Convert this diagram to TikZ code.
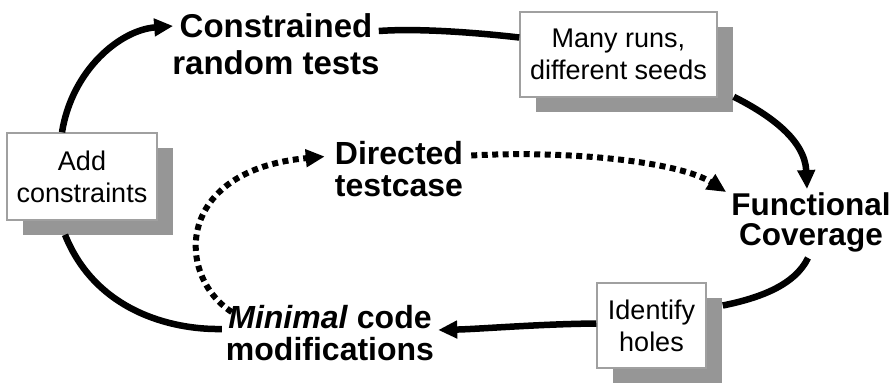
\documentclass[tikz,border=0pt]{standalone}
\usepackage{fontspec}
\setmainfont{Liberation Sans}
\usetikzlibrary{arrows.meta,shadows}
\definecolor{shadowgray}{RGB}{150,150,150}
\definecolor{bordergray}{RGB}{160,160,160}
\tikzset{
  boxed/.style={draw=bordergray, line width=1.5pt, fill=white, inner sep=0pt, align=center,
    font=\fontsize{27}{32}\selectfont,
    drop shadow={shadow xshift=16pt, shadow yshift=-15pt, fill=shadowgray, opacity=1}},
  label/.style={inner sep=0pt, align=center, font=\fontsize{32}{33}\selectfont\bfseries},
  flow/.style={line width=6.5pt},
  flowarrow/.style={line width=6.5pt, -{Triangle[length=19pt,width=17pt]}},
  dotarrow/.style={line width=6pt, dash pattern=on 6pt off 4.5pt, -{Triangle[length=19pt,width=17pt]}}
}
\begin{document}
\begin{tikzpicture}[x=1pt, y=-1pt]
\useasboundingbox (0,0) rectangle (895,384);

% boxes
\node[boxed, minimum width=150pt, minimum height=87pt] (add) at (82,176.5) {Add\\constraints};
\node[boxed, minimum width=197pt, minimum height=85pt] (many) at (618.5,54.5) {Many runs,\\different seeds};
\node[boxed, minimum width=109pt, minimum height=85pt] (ident) at (651.5,325.5) {Identify\\holes};

% bold labels
\node[label, font=\fontsize{33}{37}\selectfont\bfseries] (crt) at (276,44) {Constrained\\random tests};
\node[label, font=\fontsize{32}{32}\selectfont\bfseries] (dir) at (399,169.5) {Directed\\testcase};
\node[label, font=\fontsize{31.5}{30}\selectfont\bfseries] (func) at (811,222) {Functional\\Coverage};
\node[label, font=\fontsize{32}{32}\selectfont\bfseries] (min) at (330,333) {\textit{Minimal} code\\modifications};

% solid connectors
\draw[flowarrow] ([xshift=-20pt]add.north) .. controls (72,70) and (120,30) .. ([xshift=1pt,yshift=18pt]crt.west);
\draw[flow] ([xshift=-1pt,yshift=13pt]crt.east) .. controls (420,28) and (480,33) .. ([yshift=17pt]many.west);
\draw[flowarrow] ([xshift=16pt,yshift=1pt]many.south east) .. controls (770,115) and (805,140) .. ([xshift=-4pt,yshift=3pt]func.north);
\draw[flow] ([xshift=-3pt,yshift=-6pt]func.south) .. controls (795,285) and (760,298) .. ([xshift=16pt,yshift=20pt]ident.east);
\draw[flowarrow] ([yshift=2pt]ident.west) .. controls (540,324) and (480,329) .. ([xshift=4pt,yshift=3pt]min.east);
\draw[flow] ([xshift=-17pt,yshift=-14pt]add.south) .. controls (95,310) and (170,330) .. ([xshift=-4pt,yshift=4pt]min.west);

% dotted connectors
\draw[dotarrow] ([xshift=6pt,yshift=-7pt]min.north west) .. controls (175,275) and (175,170) .. ([xshift=-10pt,yshift=13pt]dir.west);
\draw[dotarrow] ([xshift=8pt,yshift=14pt]dir.east) .. controls (570,150) and (680,162) .. ([xshift=-5pt]func.north west);
\end{tikzpicture}
\end{document}
